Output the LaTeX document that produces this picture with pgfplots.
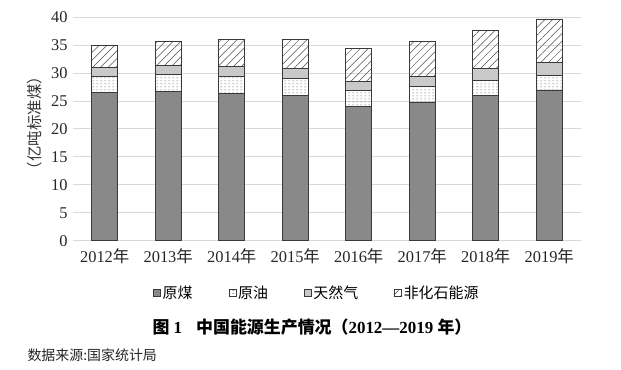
\documentclass[border=0pt]{standalone}
\usepackage{pgfplots}
\pgfplotsset{compat=1.18}
\usepackage{fontspec}
\setmainfont{Liberation Serif}
\newfontfamily\cjk{Noto Sans CJK SC}
\usetikzlibrary{patterns,patterns.meta}
\definecolor{coal}{HTML}{898989}
\definecolor{gas}{HTML}{C9C9C9}
\definecolor{edge}{HTML}{3A3A3A}
\definecolor{gridc}{HTML}{D9D9D9}
\pgfdeclarepattern{
  name=dashrows,
  type=uncolored,
  bottom left={\pgfpoint{0bp}{0bp}},
  top right={\pgfpoint{4bp}{3bp}},
  tile size={\pgfpoint{4bp}{3bp}},
  code={\pgfpathrectangle{\pgfpoint{0.5bp}{1.2bp}}{\pgfpoint{2.2bp}{0.7bp}}\pgfusepath{fill}}
}
\begin{document}
\begin{tikzpicture}
\useasboundingbox (-73bp,-129.3bp) rectangle (548bp,240.7bp);
\begin{axis}[
  at={(0,0)}, anchor=south west,
  scale only axis,
  width=508bp, height=223.4bp,
  ybar stacked, bar width=26bp,
  xmin=-0.5, xmax=7.5, ymin=0, ymax=40,
  ytick={0,5,...,40},
  xtick={0,...,7},
  xticklabels={2012{\cjk 年},2013{\cjk 年},2014{\cjk 年},2015{\cjk 年},2016{\cjk 年},2017{\cjk 年},2018{\cjk 年},2019{\cjk 年}},
  /pgf/number format/assume math mode=true,
  ticklabel style={font=\fontsize{16.5}{18}\selectfont, text=black!85},
  yticklabel style={xshift=-2bp},
  xticklabel style={yshift=-4bp},
  major tick length=0pt,
  axis line style={draw=none},
  ymajorgrids, grid style={gridc, line width=1bp},
  legend columns=4,
  legend style={draw=none, at={(0.480,-0.234)}, anchor=center,
    font=\cjk\fontsize{15}{17}\selectfont,
    /tikz/every even column/.append style={column sep=34bp}},
  legend image code/.code={\draw[#1, line width=0.5bp] (0bp,-3.5bp) rectangle (7bp,3.5bp);},
]
\addplot[fill=coal, draw=edge, line width=0.6bp] coordinates {(0,26.6) (1,26.8) (2,26.4) (3,26.0) (4,24.1) (5,24.8) (6,26.0) (7,27.0)};
\addplot[pattern=dashrows, pattern color=black!55, draw=edge, line width=0.6bp] coordinates {(0,2.9) (1,3.0) (2,3.0) (3,3.1) (4,2.8) (5,2.8) (6,2.8) (7,2.7)};
\addplot[fill=gas, draw=edge, line width=0.6bp] coordinates {(0,1.5) (1,1.6) (2,1.8) (3,1.8) (4,1.6) (5,1.8) (6,2.0) (7,2.2)};
\addplot[pattern={Lines[angle=45,distance=5.5bp,line width=0.5bp]}, pattern color=black!70, draw=edge, line width=0.6bp] coordinates {(0,4.0) (1,4.3) (2,4.9) (3,5.2) (4,5.9) (5,6.3) (6,6.9) (7,7.8)};
\legend{原煤,原油,天然气,非化石能源}
\end{axis}
\node[rotate=90, font=\cjk\fontsize{15.5}{17}\selectfont, text=black!80] at (-38bp,117.7bp) {（亿吨标准煤）};
\node[anchor=west, font=\fontsize{17}{19}\selectfont\bfseries] at (76bp,-86.3bp) {{\cjk 图} 1\hspace{14bp}{\cjk 中国能源生产情况（}2012—2019 {\cjk 年）}};
\node[anchor=west, font=\cjk\fontsize{14}{16}\selectfont, text=black!85] at (-49bp,-114.3bp) {数据来源:国家统计局};
\end{tikzpicture}
\end{document}
